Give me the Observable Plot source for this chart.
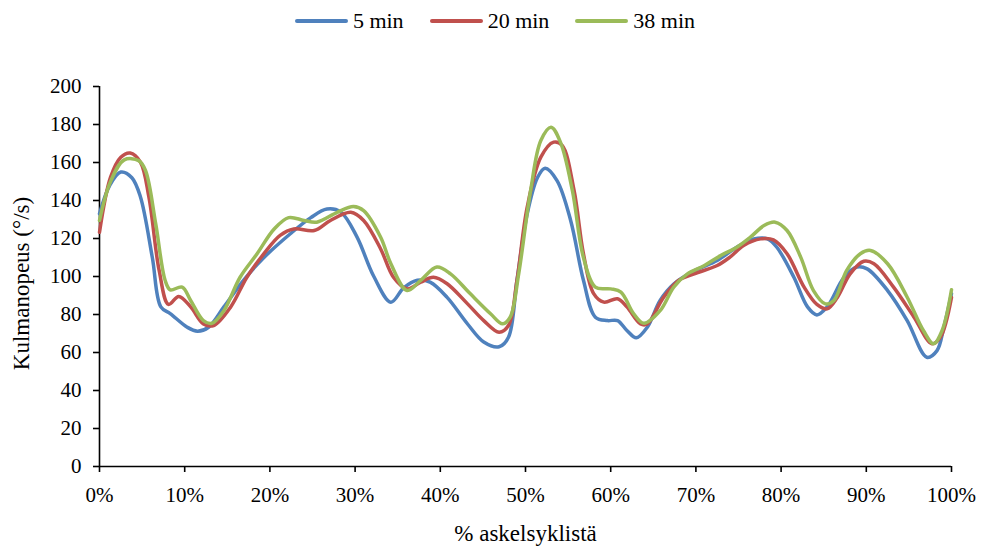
<!DOCTYPE html>
<html>
<head>
<meta charset="utf-8">
<script src="https://cdn.jsdelivr.net/npm/d3@7"></script>
<script src="https://cdn.jsdelivr.net/npm/@observablehq/plot@0.6"></script>
<style>
  html, body { margin: 0; padding: 0; background: #fff; }
  body { width: 984px; height: 550px; overflow: hidden; font-family: "Liberation Serif", "DejaVu Serif", serif; }
  #legend { height: 42px; display: flex; justify-content: center; align-items: center; gap: 26px; font-size: 22px; color: #000; padding-left: 6px; box-sizing: border-box; }
  #legend .item { display: flex; align-items: center; gap: 5px; }
  #legend .sw { display: inline-block; width: 53px; height: 4px; border-radius: 2px; }
</style>
</head>
<body>
<div id="legend"></div>
<div id="chart"></div>
<script>
const seriesNames = ["5 min", "20 min", "38 min"];
const seriesColors = ["#4F81BD", "#C0504D", "#9BBB59"];

const x5 = [0,1.2,2.5,3.8,4.8,6.2,7.2,8.3,10.3,11.5,12.8,14.6,16.9,19.3,22.4,24.8,26.7,28.3,30.2,32.2,34.2,35.7,37.3,38.8,40.8,43.2,45.1,46.9,48,49,50.2,51.4,52.3,53.7,55.3,56.8,58.2,59.6,60.8,61.9,63,64.3,65.8,67.4,69.8,72.5,74.8,76.8,78.4,79.5,81.5,83.1,84.2,85.4,87.4,88.9,90.1,92.5,94.8,97.1,98.3,99.1,100];
const y5 = [133,148,155,152,142,110,84,80.5,73.3,71.2,73.3,84,98,110,122.5,131,135.5,134,121,100,86.5,94,98,97,89,75,65.5,63,68,98,133,152,157,150.5,129.5,98,78.6,76.8,76.8,71.6,67.7,73.3,87.4,96,103,108.4,115.4,119.8,119.8,115.4,99.6,84,79.8,84,99.6,105,104,92.6,76.8,57.5,61,73.3,91];

const x20 = [0,1.3,2.5,3.6,4.8,5.8,7,8.1,9.3,10.7,12.2,13.4,15.4,17.3,19.3,21.2,22.8,25.2,27.1,29.5,31,33,34.5,36.1,37.7,39.2,40.8,43.2,45.1,46.9,48,49,50.2,51.8,53.3,54.3,55.7,56.8,58,59.2,60.8,61.9,63.5,64.3,66.2,68,69.8,72.5,74,75.6,77.6,79.1,80.7,82.7,84.2,85.4,86.6,88.1,89.7,90.9,93.2,95.6,97.7,98.7,100];
const y20 = [123.3,152.3,162.8,165,160.2,141.7,103.2,85.3,89.5,84,75,74.2,84,99.6,112,121.6,125,124.2,129.5,133.8,129.5,114.5,99.6,93.5,97,99.6,96.2,85.6,76.8,70.7,74.2,98,136.5,162.8,170.7,169,145.3,112,91,86.5,88.3,84,75,75,89,98,101.4,105.8,110.2,116.3,119.8,119.3,112,94.4,85.3,83,89,101.4,108,106.7,94.4,78.6,64.6,68,89];

const x38 = [0,1.3,2.9,4.6,5.4,6.6,7.7,8.3,9.7,10.7,12.2,13.2,14.6,16.5,18.5,20.5,22.2,24,25.5,27.9,29.8,31,33,34.2,36.1,37.7,39.6,41.2,43.5,45.9,47.3,48.2,49.2,50.6,51.8,53,54.1,55.5,56.8,58.2,60,61.2,62.7,63.9,65.8,67.4,69,71,72.9,74.8,76.4,78,79.3,80.7,82.3,83.8,85.2,86.2,87.7,89.3,90.5,92.5,94.8,96.7,97.9,98.9,100];
const y38 = [129.5,150,161.4,161,155.8,127.7,98,93,94.4,87.4,76.8,75.4,82,99.6,112,125,131,129.5,128.6,133.8,136.8,134.7,120.7,106.7,92.6,98,105,101.4,91,80.4,75.1,78.6,101.4,145.3,171.6,178.6,170.7,145.3,110,94.4,93.5,91.8,80.4,75.4,82,94.4,101.4,105.8,111,115.4,120.7,126.8,128.6,124.2,110.2,92.6,85.6,87.4,103.2,112,113.7,106.7,89.1,71.6,64.6,71.6,93];

const xTicks = [0,10,20,30,40,50,60,70,80,90,100];
const yTicks = [0,20,40,60,80,100,120,140,160,180,200];
const xTitle = "% askelsyklistä";
const yTitle = "Kulmanopeus (°/s)";

const xs = [x5, x20, x38];
const ys = [y5, y20, y38];
const rows = [];
seriesNames.forEach((name, i) => {
  xs[i].forEach((x, j) => rows.push({series: name, x, y: ys[i][j]}));
});

// legend
const legend = document.getElementById("legend");
seriesNames.forEach((n, i) => {
  const it = document.createElement("div");
  it.className = "item";
  const sw = document.createElement("span");
  sw.className = "sw";
  sw.style.background = seriesColors[i];
  const t = document.createElement("span");
  t.textContent = n;
  it.appendChild(sw); it.appendChild(t);
  legend.appendChild(it);
});

const FONT = "Liberation Serif, DejaVu Serif, serif";
const chart = Plot.plot({
  width: 984,
  height: 508,
  marginTop: 44,
  marginBottom: 84,
  marginLeft: 99,
  marginRight: 33,
  style: {fontFamily: FONT, fontSize: "21px", color: "#000", background: "#fff"},
  x: {domain: [0, 100]},
  y: {domain: [0, 200]},
  color: {domain: seriesNames, range: seriesColors},
  marks: [
    Plot.axisY({ticks: yTicks, tickSize: 6, tickPadding: 12, label: null, strokeWidth: 1.6, fontFamily: FONT}),
    Plot.axisX({ticks: xTicks, tickSize: 6, tickPadding: 15, label: null, tickFormat: d => d + "%", strokeWidth: 1.6, fontFamily: FONT}),
    Plot.ruleX([0], {stroke: "#000", strokeWidth: 1.6}),
    Plot.ruleY([0], {stroke: "#000", strokeWidth: 1.6}),
    Plot.line(rows, {x: "x", y: "y", z: "series", stroke: "series", strokeWidth: 3.5, curve: "catmull-rom"}),
    Plot.text([xTitle], {frameAnchor: "bottom", dy: 74, fontSize: 23, fontFamily: FONT, text: d => d}),
    Plot.text([yTitle], {frameAnchor: "left", textAnchor: "middle", dx: -78, dy: 7, rotate: -90, fontSize: 23, fontFamily: FONT, text: d => d})
  ]
});
document.getElementById("chart").appendChild(chart);
</script>
</body>
</html>
